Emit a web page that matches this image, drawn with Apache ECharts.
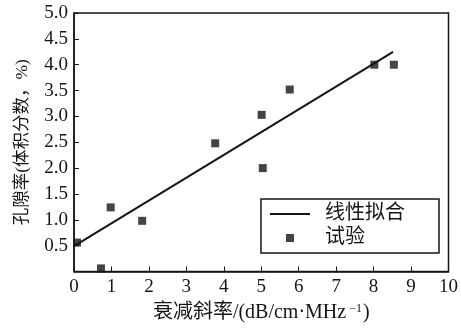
<!DOCTYPE html>
<html><head><meta charset="utf-8">
<script src="https://cdn.jsdelivr.net/npm/echarts@6/dist/echarts.min.js"></script>
<style>html,body{margin:0;padding:0;background:#fff}#c{width:461px;height:328px}</style>
</head><body><div id="c"></div>
<script>
const expX = [0.08, 0.72, 0.98, 1.82, 3.77, 5.01, 5.04, 5.76, 8.02, 8.54];
const expY = [0.56, 0.06, 1.24, 0.98, 2.48, 3.03, 2.00, 3.52, 4.00, 4.00];
const fitX = [0, 8.52];
const fitY = [0.49, 4.25];
const seriesNames = ['线性拟合', '试验'];
const xTitle = '衰减斜率/(dB/cm·MHz';
const yTitle = '孔隙率(体积分数，%)';

const F = '"Liberation Serif", "Noto Sans CJK SC", serif';
const C = '#151515';
const chart = echarts.init(document.getElementById('c'), null, {renderer: 'canvas'});
chart.setOption({
  animation: false,
  backgroundColor: '#fff',
  grid: {left: 74, right: 9, top: 13, bottom: 54, show: true, borderColor: C, borderWidth: 1.5},
  xAxis: {
    type: 'value', min: 0, max: 10, interval: 1,
    axisLine: {lineStyle: {color: C, width: 1.5}},
    axisTick: {inside: true, length: 5, lineStyle: {color: C}},
    splitLine: {show: false},
    axisLabel: {color: C, fontFamily: F, fontSize: 19, margin: 6},
    name: '{a|' + xTitle + '}{s|−1}{a|)}', nameLocation: 'middle', nameGap: 31,
    nameTextStyle: {rich: {
      a: {fontFamily: F, fontSize: 20, color: C},
      s: {fontFamily: F, fontSize: 12, color: C, verticalAlign: 'top', padding: [0, 1, 9, 3]}
    }}
  },
  yAxis: {
    type: 'value', min: 0, max: 5, interval: 0.5,
    axisLine: {lineStyle: {color: C, width: 1.5}},
    axisTick: {inside: true, length: 5, lineStyle: {color: C}},
    splitLine: {show: false},
    axisLabel: {color: C, fontFamily: F, fontSize: 19, margin: 6,
      formatter: v => v === 0 ? '' : v.toFixed(1)},
    name: yTitle, nameLocation: 'middle', nameGap: 43,
    nameTextStyle: {fontFamily: F, fontSize: 17.5, color: C}
  },
  legend: {
    left: 261, top: 199, orient: 'vertical',
    padding: [5, 34, 5, 9], itemGap: 4,
    borderColor: C, borderWidth: 1.5,
    itemWidth: 40, itemHeight: 8,
    textStyle: {fontFamily: F, fontSize: 20, color: C, padding: [0, 0, 0, 10]},
    data: [
      {name: seriesNames[0], icon: 'path://M0,0h40v2h-40z'},
      {name: seriesNames[1], icon: 'path://M0,0h1v1h-1z'}
    ]
  },
  series: [
    {name: seriesNames[0], type: 'line', showSymbol: false, symbol: 'none',
     lineStyle: {color: C, width: 2}, itemStyle: {color: C},
     data: fitX.map((x, i) => [x, fitY[i]])},
    {name: seriesNames[1], type: 'scatter', symbol: 'rect', symbolSize: 8,
     itemStyle: {color: C},
     data: expX.map((x, i) => [x, expY[i]])}
  ]
});
</script></body></html>
